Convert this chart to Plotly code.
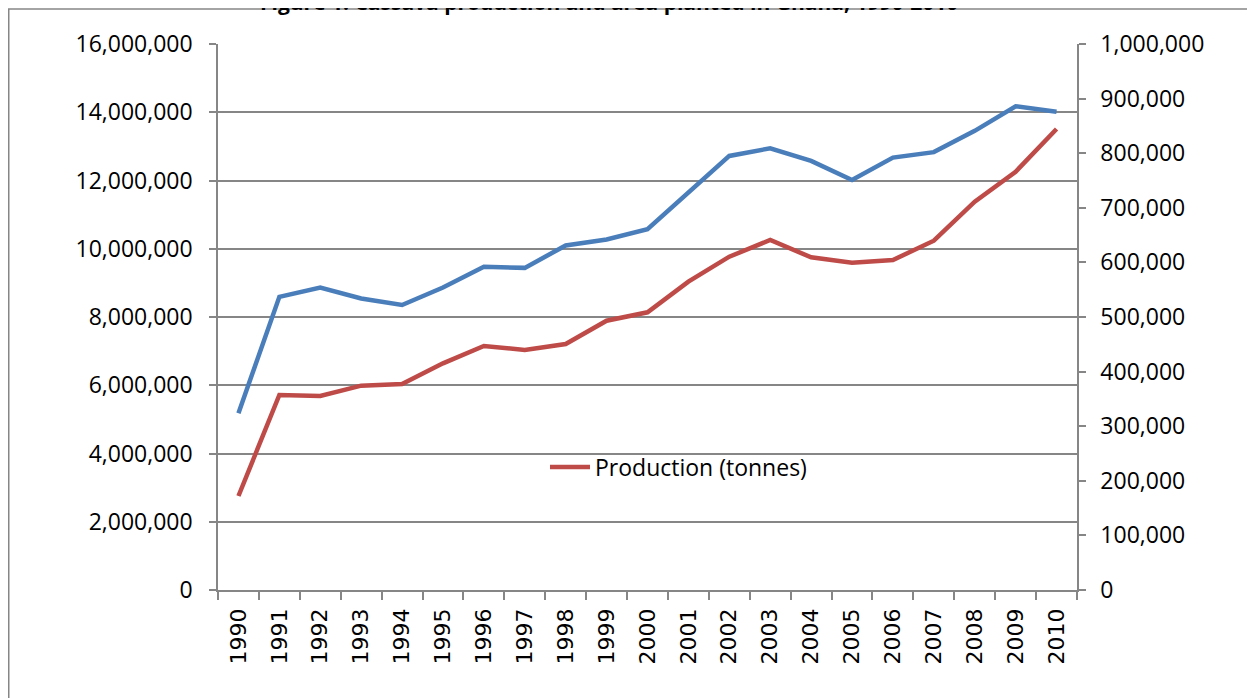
import plotly.graph_objects as go

anos = [str(a) for a in range(1990, 2011)]

# Production (tonnes) - left axis
producao = [2755000, 5714000, 5685000, 5987000, 6037000, 6643000, 7150000,
            7033000, 7209000, 7892000, 8137000, 9035000, 9767000, 10256000,
            9749000, 9591000, 9670000, 10236000, 11379000, 12258000, 13509000]

# Area planted (ha) - right axis
area = [323600, 537000, 554000, 534000, 522000, 554000, 592000, 590000,
        631000, 642000, 661000, 729000, 795000, 809000, 786000, 751000,
        792000, 802000, 841000, 886000, 876000]

titulo = "Figure 1: Cassava production and area planted in Ghana, 1990-2010"

# page is drawn with an 8px body margin, so work in page pixels and shift
OFF = 8
W, H = 1255 - OFF, 698 - OFF
L, R, T, B = 218 - OFF, 1077 - OFF, 44 - OFF, 590 - OFF
pw, ph = R - L, B - T

cinza = "#868686"
fonte = "Open Sans"

fig = go.Figure()

fig.add_trace(go.Scatter(
    name="Area planted (ha)",
    x=anos,
    y=area,
    mode="lines",
    line=dict(color="#4a7ebb", width=4.5),
    yaxis="y2",
    showlegend=False,
))

fig.add_trace(go.Scatter(
    name="Production (tonnes)",
    x=anos,
    y=producao,
    mode="lines",
    line=dict(color="#be4b48", width=4.5),
))


def px_x(x):
    return (x - OFF - L) / pw


def px_y(y):
    return (B - (y - OFF)) / ph


fig.update_layout(
    width=W,
    height=H,
    margin=dict(l=L, r=W - R, t=T, b=H - B, pad=0),
    plot_bgcolor="white",
    paper_bgcolor="white",
    font=dict(family=fonte, size=23, color="black"),
    xaxis=dict(
        type="category",
        range=[-0.5, 20.5],
        tickson="boundaries",
        ticks="outside",
        ticklen=8,
        tickwidth=1.5,
        tickcolor=cinza,
        showline=True,
        linecolor=cinza,
        linewidth=1.5,
        showgrid=False,
        tickangle=-90,
        tickfont=dict(family="DejaVu Sans", size=22),
        ticklabelstandoff=8,
    ),
    yaxis=dict(
        range=[0, 16000000],
        dtick=2000000,
        tickformat=",",
        ticks="outside",
        ticklen=7,
        tickwidth=1.5,
        tickcolor=cinza,
        showline=True,
        linecolor=cinza,
        linewidth=1.5,
        showgrid=True,
        gridcolor=cinza,
        gridwidth=1.5,
        zeroline=False,
        ticklabelstandoff=12,
    ),
    yaxis2=dict(
        overlaying="y",
        side="right",
        range=[0, 1000000],
        dtick=100000,
        tickformat=",",
        ticks="outside",
        ticklen=7,
        tickwidth=1.5,
        tickcolor=cinza,
        showline=True,
        linecolor=cinza,
        linewidth=1.5,
        showgrid=False,
        zeroline=False,
        ticklabelstandoff=10,
    ),
    legend=dict(
        x=px_x(545),
        y=px_y(467),
        xanchor="left",
        yanchor="middle",
        bgcolor="rgba(0,0,0,0)",
        font=dict(family=fonte, size=23),
        itemwidth=40,
    ),
    showlegend=True,
)

# cut-off title at the top of the page
fig.add_annotation(
    text="<b>" + titulo + "</b>",
    xref="paper", yref="paper",
    x=px_x(609), y=px_y(1.5),
    xanchor="center", yanchor="middle",
    showarrow=False,
    font=dict(family=fonte, size=21, color="black"),
)

# outer chart frame
fig.add_shape(
    type="rect",
    xref="paper", yref="paper",
    x0=px_x(8.75), x1=px_x(1254), y0=px_y(720), y1=px_y(9),
    line=dict(color=cinza, width=1.5),
    fillcolor="rgba(0,0,0,0)",
    layer="below",
)

fig.write_html("out.html")
